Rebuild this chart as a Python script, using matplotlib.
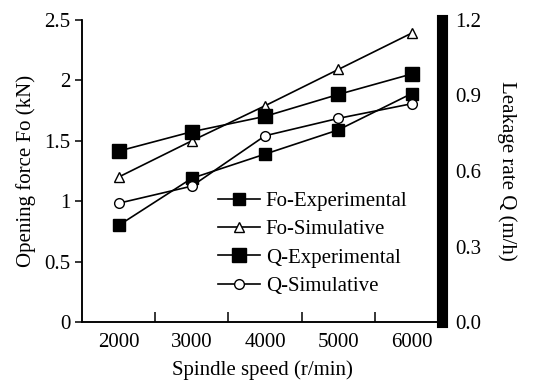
import numpy as np
import matplotlib.pyplot as plt

plt.rcParams['font.family'] = ['Liberation Serif', 'DejaVu Serif']

speed = [2000, 3000, 4000, 5000, 6000]
fo_exp = [0.80, 1.19, 1.39, 1.59, 1.89]
fo_sim = [1.20, 1.50, 1.79, 2.09, 2.39]
q_exp = [0.679, 0.756, 0.817, 0.904, 0.985]
q_sim = [0.472, 0.540, 0.740, 0.809, 0.867]

fig = plt.figure(figsize=(5.45, 3.83), dpi=100)
ax = fig.add_axes([0.1505, 0.159, 0.661, 0.789])
ax2 = ax.twinx()

fs = 15
l1, = ax.plot(speed, fo_exp, color='black', lw=1.2, marker='s', ms=8,
              mfc='black', mec='black', label='Fo-Experimental')
l2, = ax.plot(speed, fo_sim, color='black', lw=1.2, marker='^', ms=7,
              mfc='white', mec='black', label='Fo-Simulative')
l3, = ax2.plot(speed, q_exp, color='black', lw=1.2, marker='s', ms=10,
               mfc='black', mec='black', label='Q-Experimental')
l4, = ax2.plot(speed, q_sim, color='black', lw=1.2, marker='o', ms=7,
               mfc='white', mec='black', label='Q-Simulative')

ax.set_xlim(1500, 6420)
ax.set_ylim(0, 2.5)
ax2.set_ylim(0, 1.2)

ax.set_xticks(speed)
ax.set_xticks([2500, 3500, 4500, 5500], minor=True)
ax.tick_params(axis='x', which='major', length=0, labelsize=fs, pad=8)
ax.tick_params(axis='x', which='minor', direction='in', length=7, width=1.1)
ax.set_yticks([0, 0.5, 1, 1.5, 2, 2.5])
ax.set_yticklabels(['0', '0.5', '1', '1.5', '2', '2.5'])
ax.tick_params(axis='y', direction='out', length=5, width=1.1, labelsize=fs)

ax2.set_yticks([0.0, 0.3, 0.6, 0.9, 1.2])
ax2.set_yticklabels(['0.0', '0.3', '0.6', '0.9', '1.2'])
ax2.tick_params(axis='y', length=0, labelsize=fs, pad=9)

for a in (ax, ax2):
    a.spines['top'].set_visible(False)
    a.spines['left'].set_linewidth(1.1)
    a.spines['bottom'].set_linewidth(1.1)
ax.spines['right'].set_visible(False)
ax2.spines['right'].set_linewidth(8)

ax.set_xlabel('Spindle speed (r/min)', fontsize=fs, labelpad=6)
ax.set_ylabel('Opening force Fo (kN)', fontsize=fs, labelpad=6)
ax2.set_ylabel('Leakage rate Q (m/h)', fontsize=fs, rotation=-90, labelpad=26)

ax2.legend(handles=[l1, l2, l3, l4], loc='upper left',
           bbox_to_anchor=(0.325, 0.495), frameon=False, fontsize=fs,
           handlelength=2.0, handletextpad=0.3, labelspacing=0.42)

fig.savefig('out.png', dpi=100)
